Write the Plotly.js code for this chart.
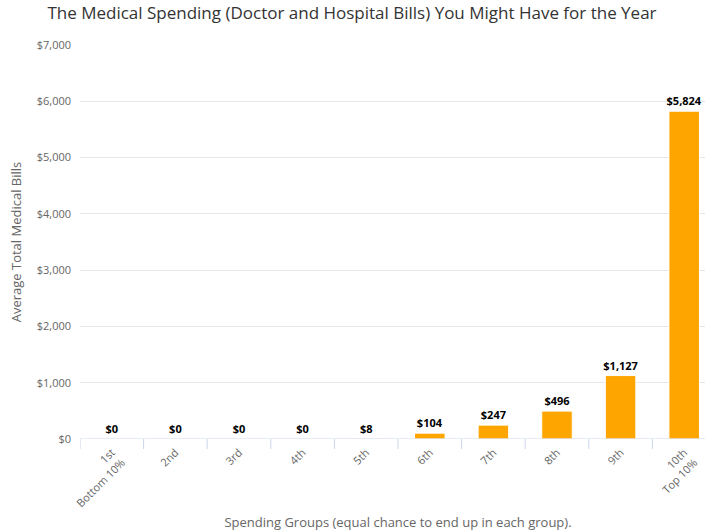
<!DOCTYPE html>
<html>
<head>
<meta charset="utf-8">
<script src="https://cdn.plot.ly/plotly-3.0.1.min.js"></script>
<style>html,body{margin:0;padding:0;background:#fff;overflow:hidden;width:705px;height:531px}#chart{width:716px;height:531px}</style>
</head>
<body>
<div id="chart"></div>
<script>
const categories = ["1st<br>Bottom 10%", "2nd", "3rd", "4th", "5th", "6th", "7th", "8th", "9th", "10th<br>Top 10%"];
const spending = [0, 0, 0, 0, 8, 104, 247, 496, 1127, 5824];
const labels = spending.map(v => "$" + v.toLocaleString("en-US"));
const yTicks = [0, 1000, 2000, 3000, 4000, 5000, 6000, 7000];
const yTickText = yTicks.map(v => "$" + v.toLocaleString("en-US"));

const xIdx = categories.map((c, i) => i);
const boundaryTicks = xIdx.map(i => i - 0.5);

const W = 716, H = 531;
const M = {l: 80, r: 0, t: 45, b: 92};
const plotH = H - M.t - M.b;
const tickLenFrac = 10 / plotH;

const trace = {
  type: "bar",
  x: xIdx,
  y: spending,
  text: labels,
  textposition: "outside",
  constraintext: "none",
  cliponaxis: false,
  textfont: {family: "Open Sans, DejaVu Sans, sans-serif", size: 11, color: "#000000", weight: "bold"},
  marker: {color: "#FFA500", line: {color: "#ffffff", width: 1}},
  hoverinfo: "none"
};

const xRange = [-0.5, 9.5];

const shapes = [{
  type: "line", xref: "paper", yref: "y", x0: 0, x1: 1, y0: 0, y1: 0,
  line: {color: "#ccd6eb", width: 1}, layer: "above"
}].concat(boundaryTicks.map(b => ({
  type: "line", xref: "x", yref: "paper", x0: b, x1: b, y0: 0, y1: -tickLenFrac,
  line: {color: "#ccd6eb", width: 1}, layer: "above"
})));

const layout = {
  width: W, height: H,
  margin: M,
  paper_bgcolor: "#ffffff", plot_bgcolor: "#ffffff",
  bargap: 0.52,
  showlegend: false,
  font: {family: "Open Sans, DejaVu Sans, sans-serif", color: "#666666", size: 11},
  title: {
    text: "The Medical Spending (Doctor and Hospital Bills) You Might Have for the Year",
    font: {family: "Open Sans, DejaVu Sans, sans-serif", size: 17, color: "#333333"},
    x: 0.4916, xref: "container", xanchor: "center", y: 0.975, yanchor: "middle"
  },
  shapes: shapes,
  xaxis: {
    type: "linear",
    range: xRange,
    tickmode: "array",
    tickvals: xIdx, ticktext: categories,
    ticks: "", ticklabelstandoff: 4,
    showline: false,
    showgrid: false, zeroline: false,
    tickangle: -45,
    tickfont: {size: 11, color: "#666666"},
    title: {text: "Spending Groups (equal chance to end up in each group).", font: {size: 13, color: "#666666"}, standoff: 18},
    fixedrange: true
  },
  yaxis: {
    range: [0, 7000],
    tickvals: yTicks, ticktext: yTickText,
    showgrid: true, gridcolor: "#e6e6e6", gridwidth: 1,
    zeroline: false, showline: false,
    ticks: "", ticklabelstandoff: 8,
    tickfont: {size: 11, color: "#666666"},
    title: {text: "Average Total Medical Bills", font: {size: 13, color: "#666666"}, standoff: 12},
    fixedrange: true
  }
};

Plotly.newPlot("chart", [trace], layout, {displayModeBar: false, staticPlot: true});
</script>
</body>
</html>
